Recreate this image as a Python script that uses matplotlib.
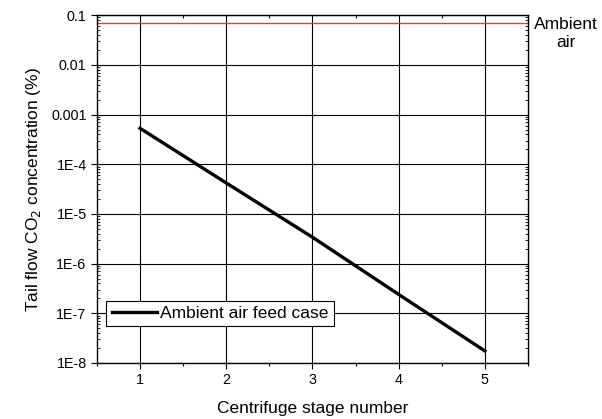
import matplotlib.pyplot as plt
from matplotlib.ticker import FixedLocator, FixedFormatter, LogLocator, NullFormatter, MultipleLocator

plt.rcParams['font.family'] = ['Liberation Sans', 'DejaVu Sans']

# data
stages = [1, 2, 3, 4, 5]
tail_co2 = [5.3e-4, 4.2e-5, 3.4e-6, 2.4e-7, 1.75e-8]
ambient_level = 0.07

y_ticks = [1e-8, 1e-7, 1e-6, 1e-5, 1e-4, 1e-3, 1e-2, 1e-1]
y_labels = ['1E-8', '1E-7', '1E-6', '1E-5', '1E-4', '0.001', '0.01', '0.1']

fig = plt.figure(figsize=(6.02, 4.19), dpi=100)
ax = fig.add_axes([0.161, 0.1337, 0.716, 0.830])

ax.set_yscale('log')
ax.set_xlim(0.5, 5.5)
ax.set_ylim(1e-8, 0.1)

ax.grid(True, which='major', color='black', linewidth=0.8)
ax.set_axisbelow(True)

ax.axhline(ambient_level, color='#ff3030', linewidth=1.0)
ax.plot(stages, tail_co2, color='black', linewidth=2.4, label='Ambient air feed case')

ax.xaxis.set_major_locator(FixedLocator(stages))
ax.xaxis.set_minor_locator(MultipleLocator(0.5))
ax.yaxis.set_major_locator(FixedLocator(y_ticks))
ax.yaxis.set_major_formatter(FixedFormatter(y_labels))
ax.yaxis.set_minor_locator(LogLocator(base=10, subs=range(2, 10), numticks=20))
ax.yaxis.set_minor_formatter(NullFormatter())

ax.tick_params(axis='both', which='major', direction='out', length=4, width=0.8, labelsize=10.3)
ax.tick_params(axis='y', which='minor', direction='in', length=2.5, width=0.6, left=True, right=True)
ax.tick_params(axis='x', which='minor', direction='out', length=2.5, width=0.8, top=True)
for t in ax.xaxis.get_minor_ticks():
    t.tick2line.set_marker(3)
for s in ax.spines.values():
    s.set_linewidth(1.0)

ax.set_xlabel('Centrifuge stage number', fontsize=12.5, labelpad=10)
ax.set_ylabel('Tail flow CO$_2$ concentration (%)', fontsize=12.5, labelpad=6)

leg = ax.legend(loc='lower left', bbox_to_anchor=(0.022, 0.105), fontsize=12.5, frameon=True,
                fancybox=False, edgecolor='black', framealpha=1, handlelength=2.6,
                handletextpad=0.2, borderpad=0.3, borderaxespad=0)
leg.get_frame().set_linewidth(0.8)

fig.text(0.94, 0.92, 'Ambient\nair', ha='center', va='center', fontsize=12.5, linespacing=1.25)

fig.savefig('out.png', dpi=100)
